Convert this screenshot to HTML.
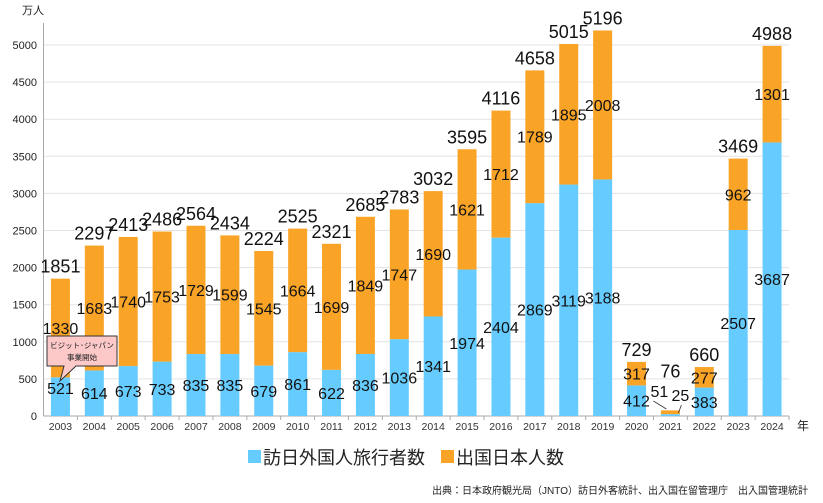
<!DOCTYPE html>
<html><head><meta charset="utf-8"><style>
body{margin:0;background:#fff;}
svg{display:block;font-family:"Liberation Sans","Noto Sans CJK JP",sans-serif;}
</style></head><body>
<svg id="c" width="823" height="503" xmlns="http://www.w3.org/2000/svg"></svg>
<script>
const V=[521,614,673,733,835,835,679,861,622,836,1036,1341,1974,2404,2869,3119,3188,412,25,383,2507,3687];
const O=[1330,1683,1740,1753,1729,1599,1545,1664,1699,1849,1747,1690,1621,1712,1789,1895,2008,317,51,277,962,1301];
const T=[1851,2297,2413,2486,2564,2434,2224,2525,2321,2685,2783,3032,3595,4116,4658,5015,5196,729,76,660,3469,4988];
const x0=43.5,x1=789,y0=416,k=371/5000,w=(x1-x0)/22,bw=19;
let s='';
for(let v=0;v<=5000;v+=500){const y=y0-v*k;
 if(v>0)s+=`<line x1="${x0}" x2="${x1}" y1="${y}" y2="${y}" stroke="#e3e3e3" stroke-width="1"/>`;
 s+=`<text x="37" y="${y+4}" font-size="11" text-anchor="end" fill="#222">${v}</text>`;}
s+=`<line x1="${x0}" x2="${x0}" y1="23" y2="${y0}" stroke="#aaa"/><line x1="${x0}" x2="${x1}" y1="${y0}" y2="${y0}" stroke="#aaa"/>`;
s+=`<text x="22" y="14" font-size="11" fill="#222">万人</text><text x="797" y="430" font-size="12" fill="#222">年</text>`;
for(let i=0;i<22;i++){const cx=x0+w*(i+.5),bx=cx-bw/2;
 const hv=V[i]*k,ho=O[i]*k;
 s+=`<rect x="${bx}" y="${y0-hv}" width="${bw}" height="${hv}" fill="#66CCFF"/>`;
 s+=`<rect x="${bx}" y="${y0-hv-ho}" width="${bw}" height="${ho}" fill="#F9A427"/>`;
 s+=`<line x1="${x0+w*(i+1)}" x2="${x0+w*(i+1)}" y1="${y0}" y2="${y0+4}" stroke="#aaa"/>`;
 s+=`<text x="${cx}" y="430" font-size="10.5" text-anchor="middle" fill="#333">${2003+i}</text>`;
 if(i==18){
  s+=`<text x="${cx}" y="${y0-T[i]*k-33}" font-size="18" text-anchor="middle" fill="#111">76</text>`;
  s+=`<text x="${cx-11}" y="${y0-19}" font-size="16" text-anchor="middle" fill="#111">51</text>`;
  s+=`<text x="${cx+10}" y="${y0-15}" font-size="16" text-anchor="middle" fill="#111">25</text>`;
  s+=`<line x1="${cx-17}" y1="${y0-15}" x2="${cx-4}" y2="${y0-7}" stroke="#333" stroke-width=".8"/>`;
  s+=`<line x1="${cx+11}" y1="${y0-11}" x2="${cx+8}" y2="${y0-3}" stroke="#333" stroke-width=".8"/>`;
  continue;}
 let by=y0-hv/2+6; if(i==0) by=y0-22;
 s+=`<text x="${cx}" y="${by}" font-size="16" text-anchor="middle" fill="#111">${V[i]}</text>`;
 s+=`<text x="${cx}" y="${y0-hv-ho/2+6}" font-size="16" text-anchor="middle" fill="#111">${O[i]}</text>`;
 s+=`<text x="${cx}" y="${y0-T[i]*k-6}" font-size="18" text-anchor="middle" fill="#111">${T[i]}</text>`;
}
s+=`<path d="M47,336 H117 V366 H76 L60,381 L64,366 H47 Z" fill="#FCC8C8" stroke="#333" stroke-width="1"/>`;
s+=`<text x="82" y="348" font-size="7.5" text-anchor="middle" fill="#222">ビジット･ジャパン</text><text x="82" y="360" font-size="7.5" text-anchor="middle" fill="#222">事業開始</text>`;
s+=`<rect x="248" y="450" width="13" height="13" fill="#66CCFF"/><text x="263" y="464" font-size="18" fill="#222">訪日外国人旅行者数</text>`;
s+=`<rect x="441" y="450" width="13" height="13" fill="#F9A427"/><text x="456" y="464" font-size="18" fill="#222">出国日本人数</text>`;
s+=`<text x="808" y="494" font-size="10" text-anchor="end" fill="#222">出典：日本政府観光局（JNTO）訪日外客統計、出入国在留管理庁　出入国管理統計</text>`;
document.getElementById('c').innerHTML=s;
</script>
</body></html>
